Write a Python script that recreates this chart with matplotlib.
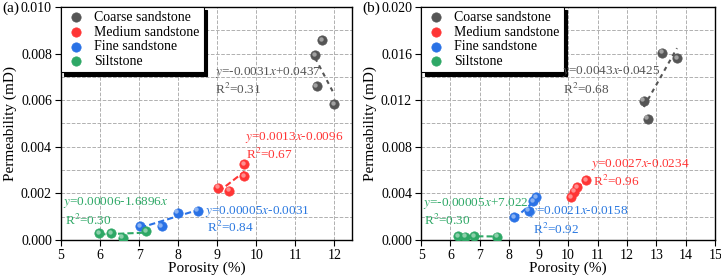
import matplotlib.pyplot as plt
import numpy as np
from matplotlib.ticker import MultipleLocator
from matplotlib.transforms import offset_copy

plt.rcParams['font.family'] = ['Liberation Serif', 'DejaVu Serif']
plt.rcParams['mathtext.fontset'] = 'stix'

names = ["Coarse sandstone", "Medium sandstone", "Fine sandstone", "Siltstone"]
colors = ["#555555", "#ff3535", "#2a72e6", "#2ea866"]
text_colors = ["#555555", "#ff3535", "#2a78e0", "#2ea866"]

# panel (a)
a_x = [[11.51, 11.69, 11.55, 12.0],
       [9.03, 9.31, 9.70, 9.70],
       [7.03, 7.58, 7.99, 8.50],
       [5.98, 6.28, 6.58, 7.18]]
a_y = [[0.00794, 0.00858, 0.00661, 0.00584],
       [0.00224, 0.00212, 0.00275, 0.00325],
       [0.00060, 0.00060, 0.00117, 0.00126],
       [0.00029, 0.00029, 0.00010, 0.00039]]
a_eq = ["$y$=-0.0031$x$+0.0437", "$y$=0.0013$x$-0.0096",
        "$y$=0.00005$x$-0.0031", "$y$=0.00006-1.6896$x$"]
a_r2 = ["R$^2$=0.31", "R$^2$=0.67", "R$^2$=0.84", "R$^2$=0.30"]
a_eq_pos = [(8.95, 0.00717), (9.72, 0.00438), (8.69, 0.00124), (5.05, 0.00159)]
a_r2_pos = [(8.95, 0.00644), (9.75, 0.00365), (8.74, 0.00052), (5.1, 0.00082)]

# panel (b)
b_x = [[12.57, 12.70, 13.19, 13.70],
       [10.09, 10.20, 10.31, 10.60],
       [8.17, 8.66, 8.81, 8.92],
       [6.27, 6.50, 6.81, 7.58]]
b_y = [[0.01196, 0.01041, 0.01608, 0.01560],
       [0.00367, 0.00415, 0.00453, 0.00515],
       [0.00195, 0.00252, 0.00330, 0.00367],
       [0.00034, 0.00029, 0.00034, 0.00029]]
b_eq = ["$y$=0.0043$x$-0.0425", "$y$=0.0027$x$-0.0234",
        "$y$=0.0021$x$-0.0158", "$y$=-0.00005$x$+7.022"]
b_r2 = ["R$^2$=0.68", "R$^2$=0.96", "R$^2$=0.92", "R$^2$=0.30"]
b_eq_pos = [(9.8, 0.01442), (10.77, 0.00644), (8.72, 0.00243), (5.06, 0.00309)]
b_r2_pos = [(9.82, 0.01296), (10.83, 0.0050), (8.81, 0.00092), (5.1, 0.00163)]

fig = plt.figure(figsize=(7.21, 2.78), dpi=100)
ax1 = fig.add_axes([0.0846, 0.137, 0.4034, 0.838])
ax2 = fig.add_axes([0.584, 0.137, 0.408, 0.838])


def draw(ax, xs, ys, eqs, r2s, eq_pos, r2_pos, xlim, ymax, ystep):
    hl = offset_copy(ax.transData, fig=fig, x=-0.9, y=0.9, units='points')
    for i in range(4):
        x = np.array(xs[i])
        y = np.array(ys[i])
        k, b = np.polyfit(x, y, 1)
        lx = np.array([x.min(), x.max()])
        ls = (0, (2, 2)) if i == 0 else (0, (3, 1.5))
        ax.plot(lx, k * lx + b, color=colors[i], lw=1.5, ls=ls, zorder=3)
        ax.scatter(x, y, s=45, color=colors[i], edgecolors=colors[i], linewidths=0.5,
                   zorder=4, label=names[i])
        ax.scatter(x, y, s=10, color='white', alpha=0.45, linewidths=0,
                   zorder=5, transform=hl)
        ax.text(*eq_pos[i], eqs[i], color=text_colors[i], fontsize=9.5,
                va='center', zorder=6)
        ax.text(*r2_pos[i], r2s[i], color=text_colors[i], fontsize=9.5,
                va='center', zorder=6)
    ax.set_xlim(*xlim)
    ax.set_ylim(0, ymax)
    ax.xaxis.set_major_locator(MultipleLocator(1))
    ax.yaxis.set_major_locator(MultipleLocator(ystep))
    ax.yaxis.set_minor_locator(MultipleLocator(ystep / 2))
    ax.yaxis.set_major_formatter(plt.FormatStrFormatter('%.3f'))
    ax.grid(True, which='both', ls='--', color='#b0b0b0', lw=0.7)
    ax.set_axisbelow(True)
    ax.tick_params(which='major', direction='out', length=4, labelsize=10, pad=2.5)
    ax.tick_params(which='minor', length=0)
    ax.set_xlabel("Porosity (%)", fontsize=11, labelpad=0)
    ax.set_ylabel("Permeability (mD)", fontsize=11, labelpad=3)
    for s in ax.spines.values():
        s.set_linewidth(1.0)
    leg = ax.legend(loc='upper left', fontsize=10, borderaxespad=0.0, frameon=True,
                    fancybox=False, edgecolor='black', handletextpad=0.5,
                    handlelength=1.6, borderpad=0.3, labelspacing=0.12,
                    scatterpoints=1,
                    shadow={'color': 'black', 'alpha': 1.0, 'ox': 2.5, 'oy': -2.5})
    leg.get_frame().set_linewidth(0.8)


draw(ax1, a_x, a_y, a_eq, a_r2, a_eq_pos, a_r2_pos, (5, 12.45), 0.010, 0.002)
draw(ax2, b_x, b_y, b_eq, b_r2, b_eq_pos, b_r2_pos, (5, 15), 0.020, 0.004)

fig.text(0.003, 0.972, "(a)", fontsize=11, va='center')
fig.text(0.502, 0.972, "(b)", fontsize=11, va='center')

fig.savefig("out.png", dpi=100)
